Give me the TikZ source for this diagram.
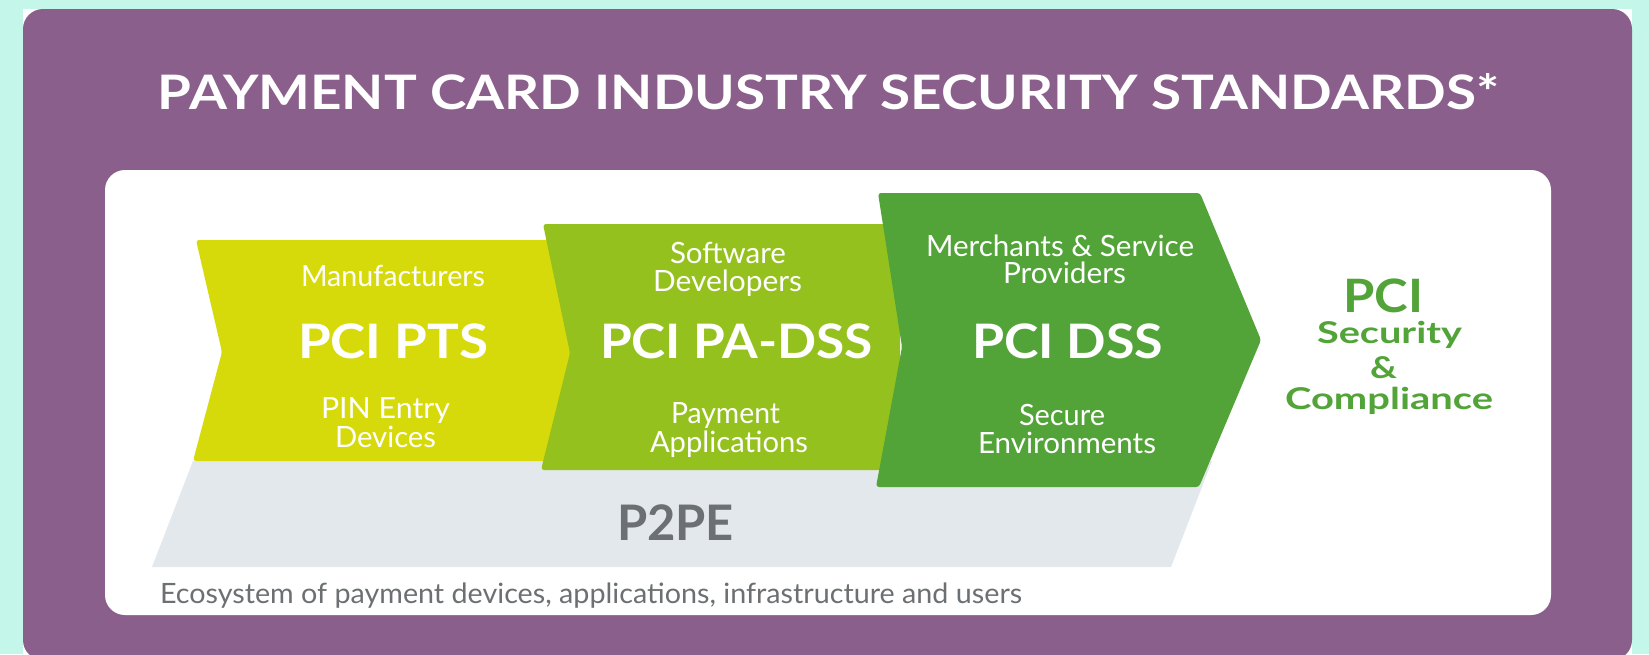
\documentclass[tikz,border=0pt]{standalone}
\usepackage{fontspec}
\setmainfont{Lato}
\usepackage{graphicx}

\definecolor{mint}{HTML}{C5F6EA}
\definecolor{panelpurple}{HTML}{8B5F8B}
\definecolor{ptsyellow}{HTML}{D6DA0B}
\definecolor{padsslime}{HTML}{95C11F}
\definecolor{dssgreen}{HTML}{53A438}
\definecolor{bandgray}{HTML}{E3E8EC}
\definecolor{textgray}{HTML}{6C7072}

% stretch a piece of text horizontally to a given width, keeping its height
\newcommand{\fitw}[2]{\resizebox{#1}{\height}{#2}}

\tikzset{
  lbl/.style={anchor=base, inner sep=0pt, outer sep=0pt},
  sub/.style={lbl, text=white, font=\fontsize{29.3}{30}\selectfont},
  head/.style={lbl, text=white, font=\fontsize{47.5}{50}\selectfont\bfseries},
  chevron/.style={rounded corners=3pt},
  outcome/.style={lbl, text=dssgreen, font=\fontsize{30}{32}\selectfont\bfseries},
}

\begin{document}
\begin{tikzpicture}[x=1pt, y=-1pt]
\useasboundingbox (0,0) rectangle (1649,654);
\clip (0,0) rectangle (1649,654);

% backdrop and panels
\fill[mint] (0,0) rectangle (1649,654);
\fill[white] (23,9) rectangle (1632,660);
\fill[panelpurple, rounded corners=20pt] (23,9) rectangle (1632,660);
\fill[white, rounded corners=20pt] (105,170) rectangle (1551,615);

% title
\node[head] (title) at (828.5,109)
  {\fitw{1341pt}{PAYMENT CARD INDUSTRY SECURITY STANDARDS*}};

% P2PE band underneath the chevrons
\fill[bandgray] (193,461) -- (1212,461) -- (1171,567) -- (152,567) -- cycle;
\node[lbl, text=textgray, font=\fontsize{49}{50}\selectfont\bfseries] (p2pe) at (675.5,540)
  {\fitw{117pt}{P2PE}};

% chevron 1: PCI PTS
\fill[ptsyellow, chevron] (196,240) -- (600,240) -- (600,461) -- (193,461) -- (222,352) -- cycle;
% chevron 2: PCI PA-DSS
\fill[padsslime, chevron] (543,224) -- (900,224) -- (900,470) -- (541,470) -- (570,353) -- cycle;
% chevron 3: PCI DSS
\fill[dssgreen, chevron] (878,193) -- (1200,193) -- (1261,340) -- (1199,487) -- (876,487) -- (902,347) -- cycle;

% chevron 1 labels
\node[sub] (mfr) at (393,286) {\fitw{184pt}{Manufacturers}};
\node[head] (pts) at (393,358) {\fitw{190pt}{PCI PTS}};
\node[sub] (pin) at (385.5,418) {\fitw{129pt}{PIN Entry}};
\node[sub] (dev) at (385.5,447) {\fitw{101pt}{Devices}};

% chevron 2 labels
\node[sub] (sw) at (728,263) {\fitw{116pt}{Software}};
\node[sub] (swdev) at (727.5,291) {\fitw{149pt}{Developers}};
\node[head] (padss) at (736.5,358) {\fitw{273pt}{PCI PA-DSS}};
\node[sub] (pay) at (725.5,423) {\fitw{109pt}{Payment}};
\node[sub] (apps) at (729,452) {\fitw{158pt}{Applications}};

% chevron 3 labels
\node[sub] (merch) at (1060,256) {\fitw{268pt}{Merchants \& Service}};
\node[sub] (prov) at (1064.5,283) {\fitw{123pt}{Providers}};
\node[head] (dss) at (1067.5,358) {\fitw{191pt}{PCI DSS}};
\node[sub] (sec) at (1062,425) {\fitw{86pt}{Secure}};
\node[sub] (env) at (1067,453) {\fitw{178pt}{Environments}};

% outcome
\node[lbl, text=dssgreen, font=\fontsize{46}{48}\selectfont\bfseries] (pci) at (1383,312) {\fitw{80pt}{PCI}};
\node[outcome] (security) at (1389.5,343) {\fitw{145pt}{Security}};
\node[outcome] (amp) at (1383.5,378) {\fitw{27pt}{\&}};
\node[outcome] (compl) at (1389,409) {\fitw{208pt}{Compliance}};

% footnote line
\node[lbl, anchor=base west, text=textgray, font=\fontsize{28}{30}\selectfont] (eco) at (160,603)
  {\fitw{862pt}{Ecosystem of payment devices, applications, infrastructure and users}};
\end{tikzpicture}
\end{document}
